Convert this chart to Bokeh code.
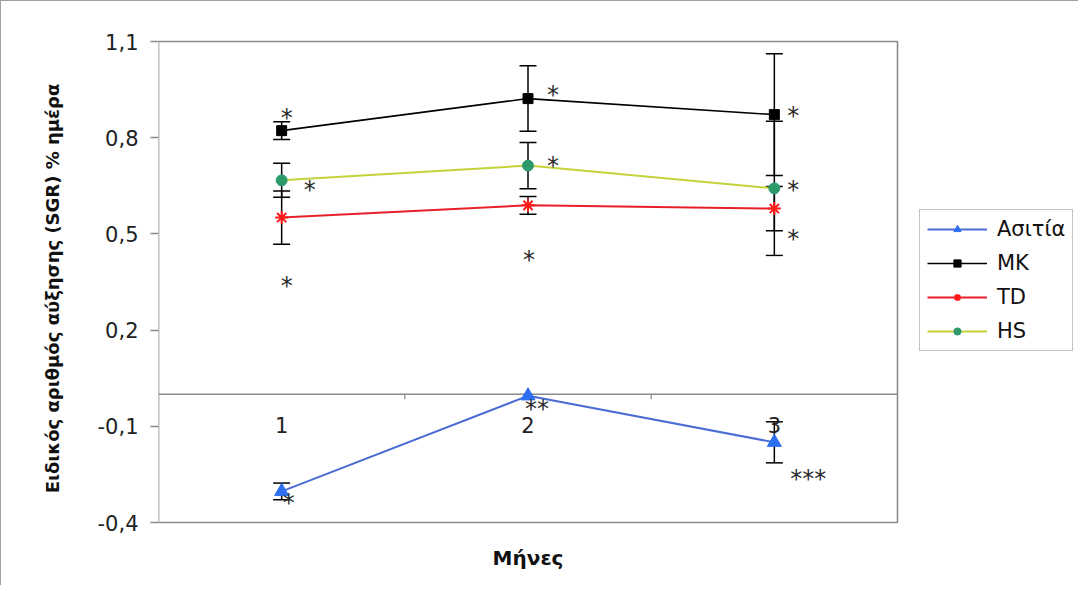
from bokeh.plotting import figure
from bokeh.models import (Range1d, FixedTicker, Whisker, ColumnDataSource, Legend,
                          LegendItem, TeeHead, BoxAnnotation, Label)
from bokeh.core.properties import value
from bokeh.embed import file_html
from bokeh.resources import INLINE

# ---------------- data ----------------
months = ["1", "2", "3"]
series_names = ["Ασιτία", "MK", "TD", "HS"]

asitia = [-0.303, -0.005, -0.150]
asitia_err = [0.026, 0.0, 0.064]
mk = [0.822, 0.922, 0.872]
mk_err = [0.028, 0.102, 0.190]
td = [0.551, 0.589, 0.579]
td_err = [0.083, 0.028, 0.069]
hs = [0.667, 0.713, 0.642]
hs_err = [0.053, 0.072, 0.209]

y_ticks = [-0.4, -0.1, 0.2, 0.5, 0.8, 1.1]
y_tick_labels = ["-0,4", "-0,1", "0,2", "0,5", "0,8", "1,1"]

# significance marks (month index, y value, text)
sig_month = [1, 1, 1, 1, 2, 2, 2, 2, 3, 3, 3, 3]
sig_y = [0.879, 0.657, 0.355, -0.322, 0.953, 0.729, 0.436, -0.026,
         0.885, 0.657, 0.504, -0.247]
sig_text = ["*", "*", "*", "*", "*", "*", "*", "**", "*", "*", "*", "***"]
sig_dx = [5, 28, 5, 7, 25, 25, 1, 9, 19, 19, 19, 34]

x = list(range(1, len(months) + 1))
y_lo, y_hi = y_ticks[0], y_ticks[-1]
x_lo, x_hi = 0.5, len(months) + 0.5

FONT = "DejaVu Sans"
GRAY = "#8a8a8a"

# ---------------- layout geometry (pixels) ----------------
W, H = 1078, 585
MBL, MBR, MBT, MBB = 157, 2, 0, 11
frame_left, frame_right = 1 + MBL, 1 + W - MBR
frame_top, frame_bottom = 1 + MBT, 1 + H - MBB
box_left, box_right, box_top, box_bottom = 158, 897, 41, 522
kx = (box_right - box_left) / (x_hi - x_lo)
ky = (box_bottom - box_top) / (y_hi - y_lo)

x_range = Range1d(x_lo, x_lo + (frame_right - frame_left) / kx)
y_range = Range1d(y_lo - (frame_bottom - box_bottom) / ky, y_hi + (box_top - frame_top) / ky)

p = figure(width=W, height=H, output_backend="svg", toolbar_location=None,
           x_range=x_range, y_range=y_range,
           min_border_left=MBL, min_border_right=MBR, min_border_top=MBT,
           min_border_bottom=MBB)
p.styles = {"border-left": "1px solid #a0a0a0", "border-top": "1px solid #a0a0a0"}
p.xgrid.visible = False
p.ygrid.visible = False
p.outline_line_color = None
p.background_fill_color = "white"
p.border_fill_color = "white"
p.xaxis.visible = False

# plot-area box
p.add_layout(BoxAnnotation(left=x_lo, right=x_hi, bottom=y_lo, top=y_hi,
                           fill_alpha=0, line_color=GRAY, line_alpha=1.0,
                           line_width=1.6))

# horizontal axis line crossing at zero, with category-boundary ticks and labels
p.segment(x0=[x_lo], y0=[0], x1=[x_hi], y1=[0], line_color=GRAY, line_width=1.6)
bounds = [v + 0.5 for v in range(1, len(months))]
tick_len = 5 / ky
p.segment(x0=bounds, y0=[0] * len(bounds), x1=bounds, y1=[-tick_len] * len(bounds),
          line_color=GRAY, line_width=1.2)
p.text(x=x, y=[0] * len(x), text=months, y_offset=31, text_align="center",
       text_baseline="middle", text_font=value(FONT), text_font_size="21px",
       text_color="#222222")

ya = p.yaxis[0]
ya.ticker = FixedTicker(ticks=y_ticks, minor_ticks=[])
ya.major_label_overrides = {t: l for t, l in zip(y_ticks, y_tick_labels)}
ya.major_tick_in = 0
ya.major_tick_out = 8
ya.major_tick_line_color = GRAY
ya.major_tick_line_width = 1.3
ya.axis_line_color = None
ya.major_label_standoff = 12
ya.major_label_text_font = FONT
ya.major_label_text_font_size = "21px"
ya.major_label_text_color = "#222222"
ya.axis_label = "Ειδικός αριθμός αύξησης (SGR) % ημέρα"
ya.axis_label_text_font = FONT
ya.axis_label_text_font_style = "bold"
ya.axis_label_text_font_size = "18px"
ya.axis_label_text_color = "#111111"
ya.axis_label_standoff = 32

# error bars
for vals, errs in [(asitia, asitia_err), (mk, mk_err), (td, td_err), (hs, hs_err)]:
    xs = [xi for xi, e in zip(x, errs) if e > 0]
    lo = [v - e for v, e in zip(vals, errs) if e > 0]
    hi = [v + e for v, e in zip(vals, errs) if e > 0]
    src = ColumnDataSource(dict(x=xs, lower=lo, upper=hi))
    w = Whisker(base="x", lower="lower", upper="upper", source=src,
                line_color="black", line_width=1.5,
                upper_head=TeeHead(size=17, line_color="black", line_width=1.5),
                lower_head=TeeHead(size=17, line_color="black", line_width=1.5))
    p.add_layout(w)

items = []
l1 = p.line(x, asitia, line_color="#4a6cd4", line_width=2)
m1 = p.scatter(x, asitia, marker="triangle", size=14, fill_color="#2d6ff0",
               line_color="#2d6ff0")
items.append(LegendItem(label=series_names[0], renderers=[l1, m1]))
l2 = p.line(x, mk, line_color="black", line_width=1.6)
m2 = p.scatter(x, mk, marker="square", size=10, fill_color="black", line_color="black")
items.append(LegendItem(label=series_names[1], renderers=[l2, m2]))
l3 = p.line(x, td, line_color="#e8202a", line_width=2)
m3 = p.scatter(x, td, marker="asterisk", size=13, line_color="#ff1a1a", line_width=2)
items.append(LegendItem(label=series_names[2], renderers=[l3, m3]))
l4 = p.line(x, hs, line_color="#c4d23c", line_width=2)
m4 = p.scatter(x, hs, marker="circle", size=11, fill_color="#2e9a6c", line_color="#2e9a6c")
items.append(LegendItem(label=series_names[3], renderers=[l4, m4]))

# significance stars
p.text(x=sig_month, y=sig_y, text=sig_text, x_offset=sig_dx, y_offset=6,
       text_align="center", text_baseline="middle", text_font=value(FONT),
       text_font_size="24px", text_color="#2a2a2a")

legend = Legend(items=items, location=(919 - frame_left, frame_bottom - 351),
                border_line_color=GRAY, border_line_width=1.5, label_text_font=FONT,
                label_text_font_size="21px", label_text_color="#111111",
                glyph_width=60, glyph_height=18, spacing=10, padding=7,
                label_standoff=10, margin=0, background_fill_color="white",
                background_fill_alpha=1.0)
p.add_layout(legend)

p.add_layout(Label(x=(x_lo + x_hi) / 2, y=y_lo - 35 / ky, text="Μήνες",
                   text_align="center", text_baseline="middle", text_font=FONT,
                   text_font_style="bold", text_font_size="20px",
                   text_color="#111111"))

open("out.html", "w").write(file_html(p, INLINE))
